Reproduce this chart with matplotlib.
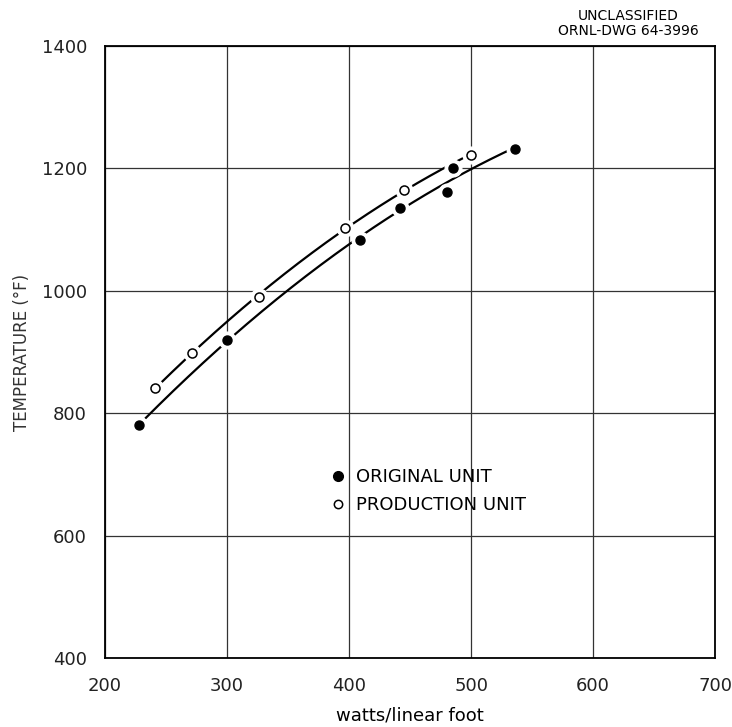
import matplotlib.pyplot as plt
import numpy as np
from matplotlib.lines import Line2D

# original unit (filled dots)
orig_w = np.array([228, 300, 409, 442, 480, 485, 536])
orig_t = np.array([781, 919, 1083, 1136, 1161, 1201, 1232])
# production unit (open dots)
prod_w = np.array([241, 271, 326, 397, 445, 500])
prod_t = np.array([841, 898, 990, 1103, 1165, 1222])

xticks = [200, 300, 400, 500, 600, 700]
yticks = [400, 600, 800, 1000, 1200, 1400]

fig = plt.figure(figsize=(7.32, 7.27), dpi=100)
ax = fig.add_axes([0.1434, 0.0949, 0.8336, 0.8418])

# smooth curves through each set
co = np.polyfit(orig_w, orig_t, 2)
xo = np.linspace(232, 532, 200)
ax.plot(xo, np.polyval(co, xo), color='black', lw=1.6, zorder=2)
cp = np.polyfit(prod_w, prod_t, 2)
xp = np.linspace(244, 497, 200)
ax.plot(xp, np.polyval(cp, xp), color='black', lw=1.6, zorder=2)

# white halo so lines break at the points
ax.plot(orig_w, orig_t, 'o', ms=12, color='white', zorder=3)
ax.plot(prod_w, prod_t, 'o', ms=12, color='white', zorder=3)
ax.plot(orig_w, orig_t, 'o', ms=6.5, color='black', zorder=4)
ax.plot(prod_w, prod_t, 'o', ms=6.5, mfc='white', mec='black', mew=1.1, zorder=4)

ax.set_xlim(200, 700)
ax.set_ylim(400, 1400)
ax.set_xticks(xticks)
ax.set_yticks(yticks)
ax.grid(True, color='#333333', lw=0.9)
ax.tick_params(length=0, labelsize=13, colors='#222222')
ax.tick_params(axis='x', pad=14)
ax.tick_params(axis='y', pad=13)
for s in ax.spines.values():
    s.set_linewidth(1.3)

ax.set_xlabel('watts/linear foot', fontsize=13, va='center')
ax.xaxis.set_label_coords(0.5, -0.094)
ax.set_ylabel('TEMPERATURE (°F)', fontsize=12, color='#333333', va='center')
ax.yaxis.set_label_coords(-0.136, 0.5)

handles = [Line2D([], [], ls='none', marker='o', ms=7, color='black'),
           Line2D([], [], ls='none', marker='o', ms=6, mfc='white', mec='black', mew=1.1)]
ax.legend(handles, ['ORIGINAL UNIT', 'PRODUCTION UNIT'], loc='center left',
          bbox_to_anchor=(0.34, 0.273), frameon=False, fontsize=13,
          handletextpad=0.5, labelspacing=0.55, handlelength=1.0)

fig.text(0.858, 0.978, 'UNCLASSIFIED', ha='center', va='center', fontsize=10)
fig.text(0.858, 0.957, 'ORNL-DWG 64-3996', ha='center', va='center', fontsize=10)

fig.savefig('out.png', dpi=100)
